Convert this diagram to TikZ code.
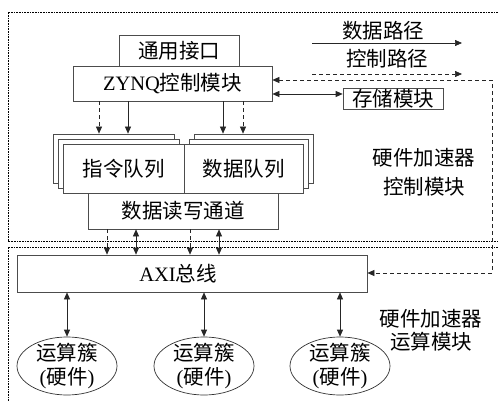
\documentclass[tikz,border=0pt]{standalone}
\usepackage{fontspec}
\setmainfont{Noto Sans CJK SC}
\newfontfamily\lat{Liberation Serif}
\usetikzlibrary{arrows.meta,shapes.geometric}
\begin{document}
\begin{tikzpicture}[x=1pt,y=-1pt,
  txt/.style={font=\fontsize{20.5}{24}\selectfont, inner sep=0pt},
  box/.style={txt, draw=black!70, line width=0.7pt, fill=white},
  ell/.style={ellipse, draw=black!80, line width=0.7pt, minimum width=100, minimum height=58, inner sep=0pt},
  tip/.tip={Triangle[length=7pt,width=6pt]},
  arr/.style={-tip, black!85, line width=0.7pt},
  darr/.style={tip-tip, black!85, line width=0.7pt},
  dsh/.style={dash pattern=on 4pt off 3pt},
  region/.style={line width=0.6pt, dash pattern=on 0.8pt off 0.8pt}]
\useasboundingbox (0,0) rectangle (498,401);
% regions
\draw[region] (498,12) -- (8,12) -- (8,241) -- (498,241);
\draw[region] (498,247) -- (8,247) -- (8,401);
% boxes
\node[box, minimum width=120, minimum height=31] (iface) at (179,50.5) {通用接口};
\node[box, minimum width=199, minimum height=35] (zynq) at (172.5,83.5) {{\lat ZYNQ}控制模块};
\node[box, minimum width=100, minimum height=21] (store) at (393,98.5) {存储模块};
\node[box, minimum width=190, minimum height=36] (chan) at (183,211) {数据读写通道};
\node[box, minimum width=121, minimum height=49] (cmdq3) at (113.5,158.5) {};
\node[box, minimum width=121, minimum height=49] (cmdq2) at (118.5,163.5) {};
\node[box, minimum width=121, minimum height=49] (cmdq1) at (123.5,168.5) {指令队列};
\node[box, minimum width=119, minimum height=49] (dataq3) at (253.5,158.5) {};
\node[box, minimum width=119, minimum height=49] (dataq2) at (248.5,163.5) {};
\node[box, minimum width=119, minimum height=49] (dataq1) at (243.5,168.5) {数据队列};
\node[box, minimum width=350, minimum height=37] (axi) at (192,273.5) {{\lat AXI}总线\hspace*{28pt}};
\foreach \n/\x in {e1/67,e2/204,e3/340}
  \node[ell, label={[txt, align=center, font=\fontsize{20.5}{24}\selectfont]center:{运算簇\\{\lat(}硬件{\lat)}}}] (\n) at (\x,366) {};
% legend and region labels
\node[txt] (ldata) at (383,31) {数据路径};
\node[txt] (lctl) at (387,59) {控制路径};
\node[txt, align=center, font=\fontsize{20.5}{29}\selectfont] (rctl) at (424,172.5) {硬件加速器\\控制模块};
\node[txt, align=center, font=\fontsize{20.5}{23}\selectfont] (rcmp) at (431,330) {硬件加速器\\运算模块};
% coordinates
\coordinate (l1s) at (312,43); \coordinate (l1e) at (462,43);
\coordinate (l2s) at (312,74); \coordinate (l2e) at (462,74);
\coordinate (a1) at (99,0); \coordinate (a2) at (128,0);
\coordinate (a3) at (223,0); \coordinate (a4) at (243,0);
\coordinate (b1) at (107,0); \coordinate (b2) at (136,0);
\coordinate (b3) at (190,0); \coordinate (b4) at (219,0);
\coordinate (s1) at (0,94);
\coordinate (cr1) at (492,80); \coordinate (cr2) at (492,273);
% connectors
\draw[arr] (l1s) -- (l1e);
\draw[arr,dsh] (l2s) -- (l2e);
\draw[arr,dsh] (a1 |- zynq.south) -- (a1 |- cmdq3.north);
\draw[arr] (a2 |- zynq.south) -- (a2 |- cmdq3.north);
\draw[arr] (a3 |- zynq.south) -- (a3 |- dataq3.north);
\draw[arr,dsh] (a4 |- zynq.south) -- (a4 |- dataq3.north);
\draw[arr,dsh] (b1 |- chan.south) -- (b1 |- axi.north);
\draw[darr] (b2 |- chan.south) -- (b2 |- axi.north);
\draw[arr,dsh] (b3 |- chan.south) -- (b3 |- axi.north);
\draw[darr] (b4 |- chan.south) -- (b4 |- axi.north);
\draw[darr] (zynq.east |- s1) -- (store.west |- s1);
\draw[darr,dsh] (zynq.east |- cr1) -- (cr1) -- (cr2) -- (axi.east |- cr2);
\foreach \n in {e1,e2,e3}
  \draw[darr] (\n.north |- axi.south) -- (\n.north);
\end{tikzpicture}
\end{document}
